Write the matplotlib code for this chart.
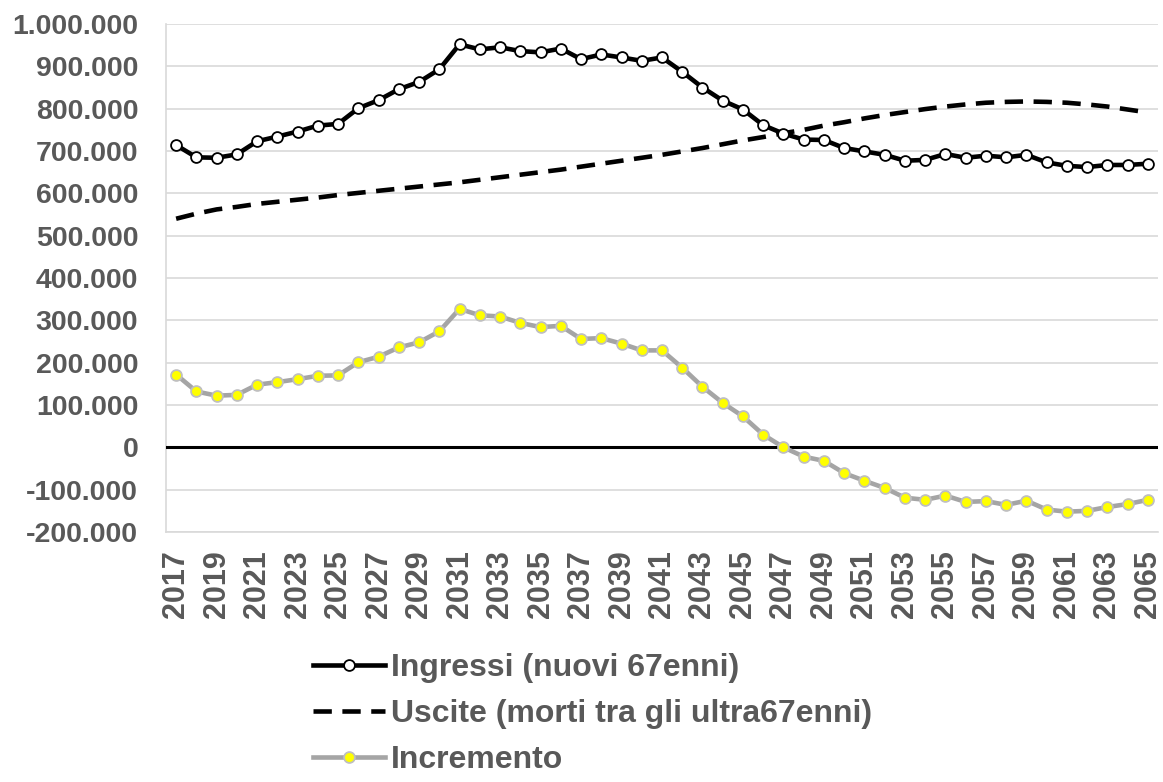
import matplotlib
matplotlib.use('Agg')
import matplotlib.pyplot as plt
from matplotlib.ticker import FuncFormatter, MultipleLocator

plt.rcParams['font.family'] = ['Liberation Sans', 'DejaVu Sans']
plt.rcParams['font.weight'] = 'bold'

years = list(range(2017, 2066))

ingressi = [714, 685, 684, 692, 723, 734, 746, 760, 764, 801,
            820, 846, 863, 893, 952, 940, 945, 936, 933, 942,
            917, 928, 921, 913, 921, 887, 850, 819, 798, 761,
            741, 727, 726, 707, 699, 691, 677, 679, 693, 684,
            689, 685, 691, 673, 665, 662, 667, 667, 670]

uscite = [540, 552, 562, 568, 575, 580, 585, 590, 596, 601,
          606, 611, 616, 621, 626, 632, 638, 644, 650, 656,
          663, 670, 677, 684, 691, 699, 707, 716, 725, 733,
          742, 750, 760, 768, 777, 785, 792, 799, 805, 810,
          814, 816, 817, 816, 814, 810, 805, 798, 791]

incremento = [172, 132, 122, 124, 148, 154, 161, 169, 170, 201,
              214, 236, 248, 274, 327, 312, 309, 294, 284, 287,
              256, 258, 245, 229, 229, 188, 143, 105, 73, 30,
              0, -22, -32, -61, -79, -96, -119, -124, -114, -129,
              -127, -136, -126, -147, -152, -150, -141, -134, -124]

labels = ['Ingressi (nuovi 67enni)',
          'Uscite (morti tra gli ultra67enni)',
          'Incremento']

text_col = '#595959'
grid_col = '#D9D9D9'

fig = plt.figure(figsize=(11.63, 7.82), dpi=100)
ax = fig.add_axes([166 / 1163, 1 - 532 / 782, (1158 - 166) / 1163, (532 - 24) / 782])

k = 1000
ax.plot(years, [v * k for v in ingressi], color='black', lw=3.3, marker='o',
        ms=7.8, mfc='white', mec='black', mew=1.3, label=labels[0], zorder=5)
ax.plot(years, [v * k for v in uscite], color='black', lw=3.3, ls=(0, (4, 2.3)),
        label=labels[1], zorder=4)
ax.plot(years, [v * k for v in incremento], color='#A5A5A5', lw=3.3, marker='o',
        ms=7.8, mfc='#FFFF00', mec='#BFBFBF', mew=1.3, label=labels[2], zorder=5)

ax.axhline(0, color='black', lw=2.2, zorder=3)

ax.set_xlim(2016.5, 2065.5)
ax.set_ylim(-200000, 1000000)
ax.yaxis.set_major_locator(MultipleLocator(100000))
ax.yaxis.set_major_formatter(FuncFormatter(lambda v, p: f'{int(round(v)):,}'.replace(',', '.')))
ax.set_xticks(years[::2])
ax.set_xticklabels([str(y) for y in years[::2]], rotation=90)

ax.grid(axis='y', color=grid_col, lw=1.2, zorder=0)
for s in ['top', 'right']:
    ax.spines[s].set_visible(False)
for s in ['left', 'bottom']:
    ax.spines[s].set_color(grid_col)
    ax.spines[s].set_linewidth(1.2)

ax.tick_params(axis='y', length=0, pad=20, labelsize=20.5, labelcolor=text_col)
ax.tick_params(axis='x', length=0, pad=13, labelsize=22, labelcolor=text_col)
for t in ax.get_yticklabels():
    t.set_fontweight('bold')
for t in ax.get_xticklabels():
    t.set_fontweight('bold')

leg = fig.legend(loc='upper left', bbox_to_anchor=(313 / 1163, 1 - 653 / 782),
                 frameon=False, fontsize=23, handlelength=2.25, handletextpad=0.2,
                 labelspacing=0.5, borderpad=0, borderaxespad=0)
for t in leg.get_texts():
    t.set_color(text_col)
    t.set_fontweight('bold')

fig.savefig('out.png', dpi=100)
